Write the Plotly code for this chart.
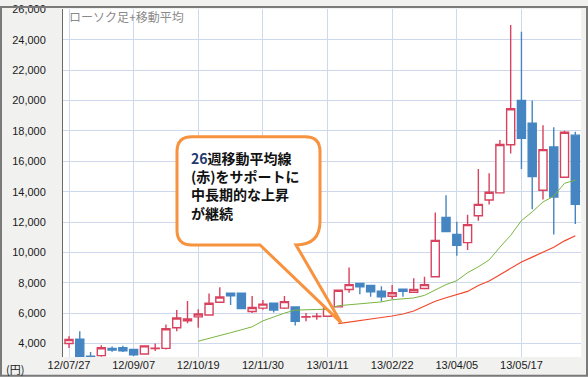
import pandas as pd
import plotly.graph_objects as go

# ---- data (weekly candles) ----
start_date = "2012-07-27"
n_weeks = 48
dates = pd.date_range(start_date, periods=n_weeks, freq="7D")

open_ = [4000, 4290, 3160, 3200, 3680, 3715, 3610, 3310, 3660, 3680,
         5035, 5490, 5750, 5880, 6720, 7320, 7320, 6110, 6330, 6650,
         6330, 6410, 5740, 5780, 5790, 6410, 7560, 7960, 7820, 7450,
         7110, 7580, 7365, 7620, 8400, 12300, 11180, 10640, 12410, 13450,
         13920, 17090, 20000, 18510, 14090, 16940, 14950, 17720]
high = [4470, 4810, 3440, 3890, 3800, 3845, 3630, 3870, 4000, 5250,
        6200, 6800, 6260, 7300, 7710, 7340, 7320, 7120, 6870, 6660,
        7120, 6420, 6000, 6000, 6340, 7520, 9000, 7970, 7830, 7770,
        7860, 7590, 8290, 8400, 12620, 13770, 12020, 12480, 15490, 15210,
        17410, 24980, 24530, 20000, 18380, 18250, 18010, 17950]
low = [3700, 2950, 3050, 3130, 3460, 3440, 3180, 3290, 3500, 3610,
       4800, 5330, 5040, 5850, 6670, 6540, 6300, 6010, 6220, 6045,
       6265, 5180, 5460, 5570, 5780, 6400, 7340, 7235, 7080, 6760,
       6930, 7080, 7320, 7600, 8390, 11370, 9780, 10150, 12090, 13160,
       13900, 16510, 15490, 12840, 13490, 11180, 14950, 11870]
close = [4260, 3050, 3130, 3715, 3570, 3520, 3260, 3845, 3690, 4970,
         5680, 5620, 5940, 6650, 7060, 7140, 6300, 6370, 6590, 6200,
         6760, 5460, 5760, 5800, 6330, 7510, 7880, 7730, 7400, 7080,
         7340, 7430, 7560, 7880, 10790, 11380, 10470, 11830, 13160, 13960,
         17110, 19460, 17520, 15000, 16770, 13640, 17910, 13160]

# 13-week moving average (starts at the 13th week)
ma13 = [4150, 4320, 4520, 4710, 4900, 5100, 5490, 5750, 6000, 6200,
        6240, 6240, 6260, 6490, 6550, 6620, 6680, 6740, 6880, 6950,
        7000, 7170, 7500, 7880, 8140, 8660, 9050, 9500, 10340, 11120,
        12090, 12670, 13320, 13700, 14550, 14760]
# 26-week moving average (starts at the 26th week)
ma26 = [5310, 5420, 5520, 5620, 5710, 5810, 5940, 6140, 6460, 6780,
        7010, 7200, 7430, 7820, 8110, 8530, 8950, 9370, 9690, 10020,
        10340, 10760, 11100]

y_ticks = list(range(4000, 26001, 2000))
chart_title = "ローソク足+移動平均"
yen_label = "(円)"
callout_lines = ["<span style='color:#1f3a6e'>26</span>週移動平均線", "(赤)をサポートに", "中長期的な上昇", "が継続"]

# ---- layout geometry helpers (pixels -> paper) ----
W, H = 588, 377
ML, MR, MT, MB = 63, 7, 3, 20
PW, PH = W - ML - MR, H - MT - MB


def px(x):
    return (x - ML) / PW


def py(y):
    return (H - MB - y) / PH


def pt(x, y):
    return f"{px(x):.5f},{py(y):.5f}"


fig = go.Figure()

fig.add_trace(go.Candlestick(
    x=dates, open=open_, high=high, low=low, close=close,
    increasing=dict(line=dict(color="#d8425e", width=1.4), fillcolor="#ffffff"),
    decreasing=dict(line=dict(color="#4586c2", width=1.4), fillcolor="#4586c2"),
    whiskerwidth=0, showlegend=False, hoverinfo="skip",
))

fig.add_trace(go.Scatter(
    x=dates[12:12 + len(ma13)], y=ma13, mode="lines",
    line=dict(color="#7ab540", width=1), showlegend=False, hoverinfo="skip",
))
fig.add_trace(go.Scatter(
    x=dates[25:25 + len(ma26)], y=ma26, mode="lines",
    line=dict(color="#f0482c", width=1.2), showlegend=False, hoverinfo="skip",
))

day = pd.Timedelta(days=1)
fig.update_xaxes(
    type="date",
    range=[dates[0] - 3.9 * day, dates[-1] + 3.7 * day],
    tick0=dates[0], dtick=42 * 86400000, tickformat="%y/%m/%d",
    showgrid=True, gridcolor="#cdd8ec", gridwidth=1,
    showline=False, zeroline=False, ticks="",
    tickfont=dict(family="Liberation Sans, Arial", size=11, color="#1a1a1a"),
    rangeslider=dict(visible=False), fixedrange=True,
)
fig.update_yaxes(
    range=[3110, 26030], tickvals=y_ticks, tickformat=",",
    showgrid=True, gridcolor="#cdd8ec", gridwidth=1,
    showline=True, linecolor="#6a6a6a", linewidth=1,
    zeroline=False, ticks="", ticklabelstandoff=14,
    ticklabeloverflow="allow",
    tickfont=dict(family="Liberation Sans, Arial", size=11, color="#1a1a1a"),
    fixedrange=True,
)

# callout bubble path (rounded box with tail)
L, R, T, B = 177, 320, 133, 243
r = 15
path = (
    f"M {pt(L + r, T)} L {pt(R - r, T)} Q {pt(R, T)} {pt(R, T + r)} "
    f"L {pt(R, B - 24)} Q {pt(R, B)} {pt(296, B)} "
    f"L {pt(341, 322)} L {pt(260, B)} "
    f"L {pt(L + r, B)} Q {pt(L, B)} {pt(L, B - r)} "
    f"L {pt(L, T + r)} Q {pt(L, T)} {pt(L + r, T)} Z"
)

shapes = [
    dict(type="path", xref="paper", yref="paper", path=path,
         line=dict(color="#f7923e", width=3), fillcolor="#ffffff", layer="above"),
    dict(type="rect", xref="paper", yref="paper",
         x0=px(1), x1=px(W - 1), y0=py(H - 1), y1=py(1),
         line=dict(color="#7a7a7a", width=2), fillcolor="rgba(0,0,0,0)", layer="above"),
]

annotations = [
    dict(xref="paper", yref="paper", x=px(67), y=py(11), xanchor="left", yanchor="middle",
         text=chart_title, showarrow=False,
         font=dict(family="Noto Sans CJK JP", size=12, color="#8a8a8a")),
    dict(xref="paper", yref="paper", x=px(4), y=py(369), xanchor="left", yanchor="middle",
         text=yen_label, showarrow=False,
         font=dict(family="Noto Sans CJK JP", size=11, color="#1a1a1a")),
    dict(xref="paper", yref="paper", x=px(190), y=py(182.3), xanchor="left", yanchor="middle",
         text="<b>" + "<br>".join(callout_lines) + "</b>", align="left", showarrow=False,
         borderpad=0,
         font=dict(family="Noto Sans CJK JP", size=14, color="#111111")),
]

fig.update_layout(
    width=W, height=H,
    margin=dict(l=ML, r=MR, t=MT, b=MB, pad=0),
    paper_bgcolor="#f1f1f0", plot_bgcolor="#ffffff",
    boxgap=0.25, boxgroupgap=0,
    shapes=shapes, annotations=annotations,
    showlegend=False, hovermode=False,
)

fig.write_html("out.html", config={"displayModeBar": False})
